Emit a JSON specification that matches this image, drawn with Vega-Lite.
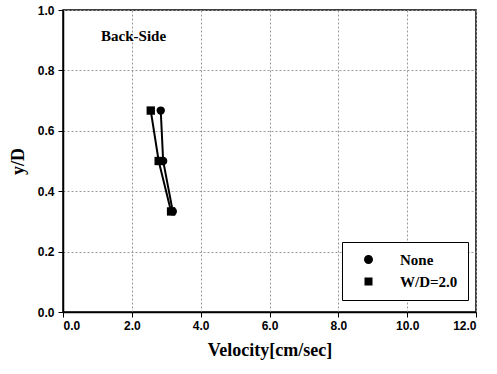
{
  "$schema": "https://vega.github.io/schema/vega-lite/v6.json",
  "autosize": "none",
  "width": 413,
  "height": 302,
  "padding": {"left": 63, "top": 10, "right": 21, "bottom": 62},
  "background": "white",
  "config": {
    "view": {"stroke": "black", "strokeWidth": 1.5},
    "axis": {
      "labelFont": "Liberation Sans",
      "labelFontWeight": "bold",
      "labelFontSize": 12,
      "labelColor": "black",
      "tickColor": "black",
      "tickSize": 5,
      "domainColor": "black",
      "domainWidth": 1.5,
      "gridColor": "#999999",
      "gridDash": [2, 2],
      "gridWidth": 1,
      "titleFont": "Liberation Serif",
      "titleFontSize": 18,
      "titleFontWeight": "bold",
      "titleColor": "black"
    }
  },
  "data": {
    "values": [
      {"series": "None", "v": 2.84, "y": 0.667},
      {"series": "None", "v": 2.91, "y": 0.5},
      {"series": "None", "v": 3.19, "y": 0.333},
      {"series": "W/D=2.0", "v": 2.55, "y": 0.667},
      {"series": "W/D=2.0", "v": 2.78, "y": 0.5},
      {"series": "W/D=2.0", "v": 3.14, "y": 0.333}
    ]
  },
  "resolve": {"scale": {"shape": "independent"}, "legend": {"shape": "independent"}},
  "layer": [
    {
      "mark": {"type": "line", "color": "black", "strokeWidth": 2},
      "encoding": {
        "x": {"field": "v", "type": "quantitative", "scale": {"domain": [0, 12], "nice": false},
          "axis": {"title": "Velocity[cm/sec]", "values": [0, 2, 4, 6, 8, 10, 12], "format": ".1f", "labelPadding": 3, "titlePadding": 10}},
        "y": {"field": "y", "type": "quantitative", "scale": {"domain": [0, 1], "nice": false},
          "axis": {"title": "y/D", "values": [0, 0.2, 0.4, 0.6, 0.8, 1.0], "format": ".1f", "labelPadding": 4, "titlePadding": 10}},
        "detail": {"field": "series"},
        "order": {"field": "y"}
      }
    },
    {
      "mark": {"type": "point", "filled": true, "color": "black", "size": 70, "opacity": 1},
      "encoding": {
        "x": {"field": "v", "type": "quantitative"},
        "y": {"field": "y", "type": "quantitative"},
        "shape": {
          "field": "series", "type": "nominal",
          "scale": {"domain": ["None", "W/D=2.0"], "range": ["circle", "square"]},
          "legend": null
        }
      }
    },
    {
      "mark": {"type": "point", "filled": true, "fill": "black", "stroke": "black", "size": 0, "strokeWidth": 2},
      "encoding": {
        "x": {"field": "v", "type": "quantitative"},
        "y": {"field": "y", "type": "quantitative"},
        "shape": {
          "field": "series", "type": "nominal",
          "scale": {"domain": ["None", "W/D=2.0"], "range": ["M-1.8,0H5.4M2.7,0A0.9,0.9 0 1,1 0.9,0A0.9,0.9 0 1,1 2.7,0Z", "M-1.8,0H5.4M1,-0.8H2.6V0.8H1Z"]},
          "legend": {
            "orient": "none",
            "legendX": 279,
            "legendY": 232,
            "title": null,
            "strokeColor": "black",
            "fillColor": "white",
            "padding": 10,
            "labelFont": "Liberation Serif",
            "labelFontWeight": "bold",
            "labelFontSize": 15,
            "labelColor": "black",
            "labelOffset": 33,
            "rowPadding": 5,
            "symbolSize": 100,
            "symbolStrokeWidth": 2,
            "symbolStrokeColor": "black",
            "symbolFillColor": "black",
            "symbolOpacity": 1
          }
        }
      }
    },
    {
      "data": {"values": [{"label": "Back-Side"}]},
      "mark": {"type": "text", "font": "Liberation Serif", "fontWeight": "bold", "fontSize": 15, "color": "black", "align": "center", "baseline": "middle"},
      "encoding": {
        "x": {"datum": 2.05, "type": "quantitative"},
        "y": {"datum": 0.914, "type": "quantitative"},
        "text": {"field": "label"}
      }
    }
  ]
}
